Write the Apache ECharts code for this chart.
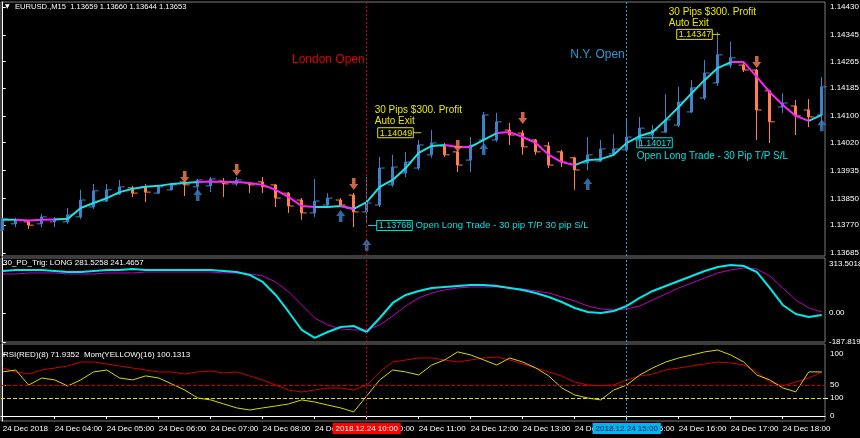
<!DOCTYPE html>
<html><head><meta charset="utf-8">
<script src="https://cdn.jsdelivr.net/npm/echarts@6/dist/echarts.min.js"></script>
<style>html,body{margin:0;padding:0;background:#000}#c{width:860px;height:438px}</style>
</head><body><div id="c"></div>
<script>
// ---- data ----
const timeLabels = ['24 Dec 2018','24 Dec 04:00','24 Dec 05:00','24 Dec 06:00','24 Dec 07:00','24 Dec 08:00','24 Dec 09:00','24 Dec 10:00','24 Dec 11:00','24 Dec 12:00','24 Dec 13:00','24 Dec 14:00','24 Dec 15:00','24 Dec 16:00','24 Dec 17:00','24 Dec 18:00'];
const priceTicks = [1.14430,1.14345,1.14265,1.14185,1.14100,1.14020,1.13935,1.13850,1.13770,1.13685];
const opens = [1.13754,1.13773,1.13779,1.13773,1.13779,1.13779,1.13794,1.13824,1.13842,1.13863,1.13882,1.13885,1.13866,1.13876,1.13900,1.13885,1.13888,1.13903,1.13894,1.13897,1.13900,1.13891,1.13866,1.13845,1.13806,1.13830,1.13845,1.13860,1.13809,1.13830,1.13891,1.13927,1.13942,1.13982,1.14009,1.13991,1.13966,1.14027,1.14027,1.14057,1.14048,1.14027,1.14009,1.13991,1.13973,1.13957,1.13963,1.13985,1.13997,1.14027,1.14042,1.14051,1.14072,1.14112,1.14154,1.14200,1.14254,1.14254,1.14239,1.14176,1.14127,1.14130,1.14118,1.14103];
const closes = [1.13788,1.13785,1.13769,1.13794,1.13788,1.13800,1.13845,1.13873,1.13876,1.13885,1.13866,1.13869,1.13885,1.13891,1.13891,1.13906,1.13909,1.13894,1.13906,1.13891,1.13885,1.13851,1.13827,1.13806,1.13842,1.13851,1.13830,1.13809,1.13836,1.13942,1.13945,1.13960,1.14012,1.14018,1.13982,1.13951,1.14012,1.14103,1.14082,1.14042,1.14006,1.13991,1.13951,1.13960,1.13936,1.13982,1.14000,1.14000,1.14036,1.14063,1.14057,1.14088,1.14142,1.14185,1.14230,1.14285,1.14276,1.14239,1.14118,1.14082,1.14139,1.14100,1.14097,1.14188];
const highs = [1.13791,1.13791,1.13785,1.13803,1.13794,1.13821,1.13876,1.13894,1.13894,1.13906,1.13888,1.13894,1.13891,1.13897,1.13903,1.13909,1.13915,1.13912,1.13915,1.13900,1.13915,1.13894,1.13869,1.13851,1.13909,1.13866,1.13851,1.13866,1.13915,1.13976,1.13982,1.13991,1.14027,1.14057,1.14018,1.13997,1.14036,1.14112,1.14109,1.14079,1.14057,1.14030,1.14021,1.13997,1.13976,1.14036,1.14027,1.14045,1.14088,1.14097,1.14072,1.14166,1.14188,1.14209,1.14269,1.14354,1.14324,1.14260,1.14242,1.14179,1.14169,1.14148,1.14151,1.14218];
const lows = [1.13751,1.13763,1.13757,1.13763,1.13763,1.13773,1.13788,1.13818,1.13839,1.13860,1.13854,1.13839,1.13863,1.13873,1.13857,1.13866,1.13869,1.13854,1.13888,1.13866,1.13866,1.13824,1.13806,1.13785,1.13794,1.13824,1.13824,1.13763,1.13779,1.13824,1.13885,1.13915,1.13936,1.13973,1.13976,1.13930,1.13930,1.13988,1.14021,1.14012,1.13982,1.13982,1.13942,1.13945,1.13876,1.13936,1.13960,1.13982,1.13991,1.14006,1.14027,1.14048,1.14066,1.14109,1.14148,1.14191,1.14245,1.14233,1.14027,1.14018,1.14109,1.14042,1.14066,1.14066];
const trendLine = [1.13785,1.13785,1.13783,1.13785,1.13786,1.13788,1.13821,1.13836,1.13851,1.13869,1.13879,1.13885,1.13888,1.13894,1.13897,1.13900,1.13901,1.13900,1.13900,1.13897,1.13891,1.13876,1.13854,1.13827,1.13824,1.13824,1.13827,1.13818,1.13839,1.13885,1.13906,1.13942,1.13988,1.14009,1.14012,1.14006,1.14006,1.14027,1.14048,1.14051,1.14036,1.14018,1.13982,1.13960,1.13951,1.13966,1.13969,1.13982,1.14018,1.14039,1.14051,1.14088,1.14127,1.14169,1.14209,1.14245,1.14263,1.14263,1.14218,1.14172,1.14133,1.14100,1.14085,1.14103];
const trendDir = 'udddu' + 'uuuuuuuuuu' + 'ddddddddd' + 'uu' + 'd' + 'uuuuuuu' + 'dd' + 'uu' + 'dddddd' + 'uuuuuuuuuuuu' + 'dddddd' + 'u';
const sellArrowIdx = [14,18,27,35,40,58];
const sellArrowPrice = [1.13915,1.13936,1.13894,1.14009,1.14094,1.14263];
const buyArrowIdx = [15,26,28,37,45,63];
const buyArrowPrice = [1.13860,1.13797,1.13709,1.14000,1.13894,1.14072];
const pdFast = [268.6,275.0,275.0,275.0,268.6,262.2,262.2,268.6,275.0,275.0,281.5,275.0,275.0,275.0,275.0,275.0,275.0,268.6,262.2,242.9,197.9,114.4,5.1,-110.5,-161.9,-123.4,-91.2,-84.8,-123.4,-33.4,63.0,114.4,140.1,159.4,165.8,172.2,178.6,178.6,172.2,159.4,146.5,127.2,101.5,69.4,30.8,5.1,-1.3,11.6,43.7,95.1,140.1,172.2,204.3,236.5,268.6,294.3,307.2,300.7,262.2,159.4,50.1,-7.7,-27.0,-14.1];
const pdSlow = [249.3,249.3,255.8,255.8,255.8,249.3,249.3,249.3,255.8,255.8,255.8,262.2,262.2,262.2,262.2,262.2,262.2,255.8,255.8,249.3,236.5,197.9,133.7,50.1,-33.4,-78.4,-104.1,-110.5,-110.5,-78.4,-20.6,43.7,95.1,127.2,146.5,159.4,165.8,165.8,165.8,159.4,152.9,140.1,127.2,101.5,75.8,43.7,24.4,18.0,24.4,43.7,82.3,120.8,159.4,191.5,223.6,255.8,275.0,287.9,281.5,236.5,159.4,82.3,30.8,5.1];
const pdTicks = [313.5018, 0, -187.8196];
const rsi = [77.4,71.0,67.7,74.2,77.4,80.6,87.1,87.1,83.9,80.6,77.4,74.2,71.0,71.0,67.7,71.0,72.6,69.4,71.0,64.5,58.1,50.0,41.9,38.7,41.9,45.2,45.2,41.9,50.0,71.0,87.1,90.3,93.6,93.6,90.3,87.1,90.3,93.6,95.2,90.3,83.9,77.4,71.0,64.5,54.8,50.0,48.4,50.0,58.1,64.5,67.7,74.2,77.4,80.6,83.9,87.1,85.5,82.3,71.0,54.8,48.4,54.8,61.3,71.0];
const mom = [100.137,100.147,100.068,100.105,100.095,100.063,100.095,100.137,100.147,100.105,100.095,100.116,100.105,100.074,100.042,100.000,99.990,99.969,99.948,99.937,99.948,99.958,99.969,99.990,99.979,99.963,99.948,99.927,100.011,100.095,100.147,100.137,100.121,100.173,100.200,100.242,100.226,100.200,100.173,100.210,100.189,100.158,100.116,100.053,100.016,100.000,99.990,100.042,100.068,100.121,100.158,100.189,100.210,100.226,100.242,100.252,100.226,100.189,100.121,100.095,100.053,100.032,100.137,100.137];
const londonIdx = 28, nyIdx = 48;

// ---- build ----
const FONT = 'Liberation Sans';
const BULL = '#3f82c8', BEAR = '#ff7f50';
const candles = opens.map((o, i) => [i, o, closes[i], lows[i], highs[i]]);
const maUp = trendLine.map((v, i) => (trendDir[i] === 'u' || trendDir[i - 1] === 'u') ? [i, v] : [i, null]);
const maDn = trendLine.map((v, i) => (trendDir[i] === 'd' || trendDir[i - 1] === 'd') ? [i, v] : [i, null]);
const idx = a => a.map((v, i) => [i, v]);
const hourTicks = timeLabels.map((_, k) => k * 4);
const XMIN = -0.13, XMAX = 63.25;
const grids = [
  {left: 1, width: 824, top: 2, height: 254},
  {left: 1, width: 824, top: 258, height: 84},
  {left: 1, width: 824, top: 344, height: 77}
].map(g => Object.assign(g, {show: true, borderColor: '#7a7a7a', borderWidth: 1, backgroundColor: '#000', containLabel: false, outerBoundsMode: 'none'}));
const hiddenX = gi => ({type: 'value', gridIndex: gi, min: XMIN, max: XMAX, axisLine: {show: false}, axisTick: {show: false}, axisLabel: {show: false}, splitLine: {show: false}});
const lbl = {color: '#ffffff', fontSize: 8, fontFamily: FONT};
const ttl = {color: '#ffffff', fontSize: 8, fontWeight: 'normal', fontFamily: FONT};
const downPath = 'path://M3,0 L7,0 L7,6 L10,6 L5,12 L0,6 L3,6 Z';
const upPath = 'path://M5,0 L10,6 L7,6 L7,12 L3,12 L3,6 L0,6 Z';
const vline = (i, color) => ({xAxis: i, lineStyle: {color: color, type: [2, 2], width: 1}});

const option = {
  backgroundColor: '#000',
  animation: false,
  textStyle: {fontFamily: FONT},
  title: [
    {text: '\u25BC', left: 5, top: 3, padding: 0, textStyle: {color: '#ffffff', fontSize: 6, fontWeight: 'normal', fontFamily: 'DejaVu Sans'}},
    {text: 'EURUSD.,M15  1.13659 1.13660 1.13644 1.13653', left: 15, top: 3, padding: 0, textStyle: {color: '#ffffff', fontSize: 7.6, fontWeight: 'normal', fontFamily: FONT}},
    {text: '30_PD_Trig: LONG 281.5258 241.4657', left: 3, top: 259, padding: 0, textStyle: ttl},
    {text: 'RSI(RED)(8) 71.9352  Mom(YELLOW)(16) 100.1313', left: 3, top: 351, padding: 0, textStyle: ttl}
  ],
  grid: grids,
  xAxis: [hiddenX(0), hiddenX(1), {
    type: 'value', gridIndex: 2, min: XMIN, max: XMAX,
    axisLine: {show: true, lineStyle: {color: '#ffffff'}},
    axisTick: {show: true, length: 3, lineStyle: {color: '#ffffff'}, customValues: hourTicks},
    axisLabel: Object.assign({show: true, align: 'left', margin: 4, customValues: hourTicks, formatter: v => timeLabels[Math.round(v / 4)] || ''}, lbl),
    splitLine: {show: false}
  }],
  yAxis: [
    {type: 'value', gridIndex: 0, position: 'right', min: 1.136755, max: 1.144451, scale: true,
     axisLine: {show: true, lineStyle: {color: '#ffffff'}},
     axisTick: {show: true, length: 3, lineStyle: {color: '#ffffff'}, customValues: priceTicks},
     axisLabel: Object.assign({margin: 5, customValues: priceTicks, formatter: v => v.toFixed(5)}, lbl),
     splitLine: {show: false}},
    {type: 'value', gridIndex: 1, position: 'right', min: -187.8196, max: 352,
     axisLine: {show: true, lineStyle: {color: '#ffffff'}},
     axisTick: {show: true, length: 3, lineStyle: {color: '#ffffff'}, customValues: pdTicks},
     axisLabel: Object.assign({margin: 4, customValues: pdTicks, formatter: v => v === 0 ? '0.00' : v.toFixed(4)}, lbl),
     splitLine: {show: false}},
    {type: 'value', gridIndex: 2, position: 'right', min: -8.06, max: 116.1,
     axisLine: {show: true, lineStyle: {color: '#ffffff'}},
     axisTick: {show: true, length: 3, lineStyle: {color: '#ffffff'}, customValues: [0, 50, 100]},
     axisLabel: Object.assign({margin: 5, customValues: [0, 50, 100]}, lbl),
     splitLine: {show: false}},
    {type: 'value', gridIndex: 2, position: 'right', min: 99.8793, max: 100.2835,
     axisLine: {show: false},
     axisTick: {show: true, length: 3, lineStyle: {color: '#ffffff'}, customValues: [100]},
     axisLabel: Object.assign({margin: 5, customValues: [100], formatter: v => String(Math.round(v))}, lbl),
     splitLine: {show: false}}
  ],
  series: [
    {type: 'candlestick', xAxisIndex: 0, yAxisIndex: 0, data: candles, barWidth: 3, clip: false,
     itemStyle: {color: BULL, color0: BEAR, borderColor: BULL, borderColor0: BEAR, borderWidth: 1},
     markLine: {symbol: 'none', silent: true, label: {show: false}, data: [vline(londonIdx, '#c80000'), vline(nyIdx, '#2a9ad8')]},
     markPoint: {symbolSize: 0, silent: true, data: [
       {coord: [londonIdx, 1.14270], label: {show: true, position: 'left', distance: 2, formatter: 'London Open', color: '#e00000', fontSize: 12, fontFamily: FONT}},
       {coord: [nyIdx, 1.14285], label: {show: true, position: 'left', distance: 2, formatter: 'N.Y. Open', color: '#2a9ad8', fontSize: 12, fontFamily: FONT}},
       {coord: [28, 1.13768], label: {show: true, position: 'right', distance: 1, formatter: '{ln| }{bx|1.13768} {tx|Open Long Trade - 30 pip T/P 30 pip S/L}',
         rich: {ln: {width: 9, height: 1, backgroundColor: '#00d8d8'}, bx: {color: '#00e0e0', fontSize: 9, borderColor: '#00e0e0', borderWidth: 1, padding: [1, 1, 0, 2], fontFamily: FONT}, tx: {color: '#00e0e0', fontSize: 9.6, fontFamily: FONT}}}},
       {coord: [28, 1.14049], label: {show: true, position: 'right', distance: 11, formatter: '{bx|1.14049}{ln| }',
         rich: {ln: {width: 8, height: 1, backgroundColor: '#d8d800'}, bx: {color: '#e8e800', fontSize: 9, borderColor: '#e8e800', borderWidth: 1, padding: [1, 1, 0, 2], fontFamily: FONT}}}},
       {coord: [28, 1.14049], label: {show: true, position: 'right', distance: 8, offset: [0, -17], formatter: '30 Pips $300. Profit\nAuto Exit', lineHeight: 11, color: '#e8e800', fontSize: 10, fontFamily: FONT}},
       {coord: [48, 1.14017], label: {show: true, position: 'right', distance: 10, formatter: '{bx|1.14017}\n{tx|Open Long Trade - 30 Pip T/P S/L}', lineHeight: 13,
         rich: {bx: {color: '#00e0e0', fontSize: 9, borderColor: '#00e0e0', borderWidth: 1, padding: [1, 1, 0, 2], fontFamily: FONT}, tx: {color: '#00e0e0', fontSize: 10, fontFamily: FONT}}, offset: [0, 6]}},
       {coord: [51, 1.14347], label: {show: true, position: 'right', distance: 11, formatter: '{bx|1.14347}{ln| }',
         rich: {ln: {width: 8, height: 1, backgroundColor: '#d8d800'}, bx: {color: '#e8e800', fontSize: 9, borderColor: '#e8e800', borderWidth: 1, padding: [1, 1, 0, 2], fontFamily: FONT}}}},
       {coord: [51, 1.14347], label: {show: true, position: 'right', distance: 3, offset: [0, -17], formatter: '30 Pips $300. Profit\nAuto Exit', lineHeight: 11, color: '#e8e800', fontSize: 10, fontFamily: FONT}}
     ]}},
    {type: 'custom', xAxisIndex: 0, yAxisIndex: 0, data: candles, z: 2,
     renderItem: (params, api) => {
       const x = api.coord([api.value(0), api.value(1)])[0];
       const yo = api.coord([api.value(0), api.value(1)])[1];
       const yc = api.coord([api.value(0), api.value(2)])[1];
       const col = api.value(2) >= api.value(1) ? BULL : BEAR;
       return {type: 'group', children: [
         {type: 'line', shape: {x1: x - 5, y1: yo, x2: x - 1, y2: yo}, style: {stroke: col, lineWidth: 1}},
         {type: 'line', shape: {x1: x + 1, y1: yc, x2: x + 5, y2: yc}, style: {stroke: col, lineWidth: 1}}
       ]};
     }},
    {type: 'line', xAxisIndex: 0, yAxisIndex: 0, data: maUp, symbol: 'none', connectNulls: false, lineStyle: {color: '#22e0e0', width: 2}, z: 3},
    {type: 'line', xAxisIndex: 0, yAxisIndex: 0, data: maDn, symbol: 'none', connectNulls: false, lineStyle: {color: '#ff22ff', width: 2}, z: 3},
    {type: 'scatter', xAxisIndex: 0, yAxisIndex: 0, data: sellArrowIdx.map((x, k) => [x, sellArrowPrice[k]]), symbol: downPath, symbolSize: [9, 12], itemStyle: {color: BEAR}, z: 4},
    {type: 'scatter', xAxisIndex: 0, yAxisIndex: 0, data: buyArrowIdx.map((x, k) => [x, buyArrowPrice[k]]), symbol: upPath, symbolSize: [9, 12], itemStyle: {color: BULL}, z: 4},
    {type: 'line', xAxisIndex: 1, yAxisIndex: 1, data: idx(pdSlow), symbol: 'none', lineStyle: {color: '#c000c0', width: 1},
     markLine: {symbol: 'none', silent: true, label: {show: false}, data: [vline(londonIdx, '#c80000'), vline(nyIdx, '#2a9ad8')]}},
    {type: 'line', xAxisIndex: 1, yAxisIndex: 1, data: idx(pdFast), symbol: 'none', lineStyle: {color: '#00e8e8', width: 2}},
    {type: 'line', xAxisIndex: 2, yAxisIndex: 2, data: idx(rsi), symbol: 'none', lineStyle: {color: '#d00000', width: 1},
     markLine: {symbol: 'none', silent: true, data: [
       {yAxis: 50, lineStyle: {color: '#d00000', type: 'dashed', width: 1}, label: {show: false}},
       Object.assign(vline(londonIdx, '#c80000'), {label: {show: true, position: 'start', distance: 2, formatter: '2018.12.24 10:00', backgroundColor: '#ff0000', color: '#ffffff', fontSize: 8, padding: [2, 3, 1, 3], fontFamily: FONT}}),
       Object.assign(vline(nyIdx, '#2a9ad8'), {label: {show: true, position: 'start', distance: 2, formatter: '2018.12.24 15:00', backgroundColor: '#00b4f0', color: '#001848', fontSize: 8, padding: [2, 3, 1, 3], fontFamily: FONT}})
     ]}},
    {type: 'line', xAxisIndex: 2, yAxisIndex: 3, data: idx(mom), symbol: 'none', lineStyle: {color: '#d8d800', width: 1},
     markLine: {symbol: 'none', silent: true, label: {show: false}, data: [{yAxis: 100, lineStyle: {color: '#e0e000', type: 'dashed', width: 1}}]}}
  ]
};
const chart = echarts.init(document.getElementById('c'), null, {renderer: 'canvas'});
chart.setOption(option);
</script></body></html>
